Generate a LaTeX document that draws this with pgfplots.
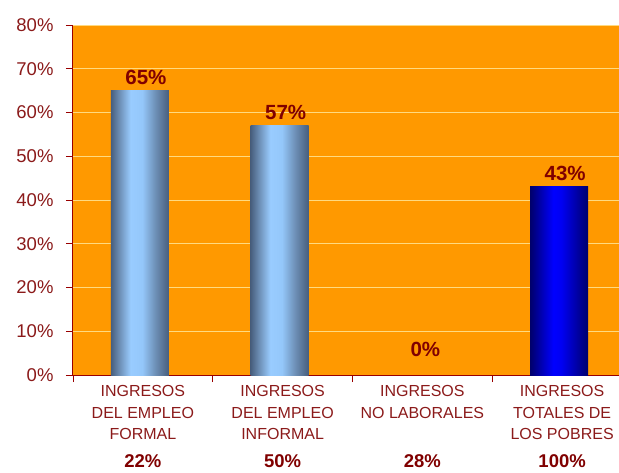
\documentclass[border=0pt]{standalone}
\usepackage{fontspec}
\setmainfont{Liberation Sans}
\usepackage{pgfplots}
\pgfplotsset{compat=1.18}
\definecolor{bg}{HTML}{FF9900}
\definecolor{gridc}{HTML}{FFDA80}
\definecolor{axc}{HTML}{990000}
\definecolor{txt}{HTML}{8B1A1A}
\definecolor{lab}{HTML}{800000}
\pgfdeclarehorizontalshading{steelbar}{100bp}{rgb(0bp)=(0.28,0.37,0.49); rgb(25bp)=(0.28,0.37,0.49); rgb(32bp)=(0.42,0.55,0.70); rgb(42bp)=(0.60,0.80,1.0); rgb(52bp)=(0.58,0.78,0.98); rgb(64bp)=(0.42,0.55,0.70); rgb(75bp)=(0.28,0.37,0.49); rgb(100bp)=(0.28,0.37,0.49)}
\pgfdeclarehorizontalshading{bluebar}{100bp}{rgb(0bp)=(0,0,0.42); rgb(25bp)=(0,0,0.42); rgb(45bp)=(0,0,1); rgb(52bp)=(0,0,0.95); rgb(75bp)=(0,0,0.42); rgb(100bp)=(0,0,0.42)}
\newcommand\pct{\fontsize{18.5}{21.5}\selectfont\bfseries\color{lab}}
\begin{document}
\begin{tikzpicture}
\useasboundingbox (0,0) rectangle (619pt,472pt);
\begin{axis}[
  at={(73pt,97pt)}, anchor=south west,
  scale only axis, width=546pt, height=350pt,
  xmin=-0.5, xmax=3.407, ymin=0, ymax=80,
  axis background/.style={fill=bg},
  axis x line*=bottom, axis y line*=left,
  axis line style={axc, line width=1pt, -},
  ytick={0,10,...,80},
  yticklabel={\pgfmathparse{int(\tick)}\pgfmathresult\%},
  yticklabel style={font=\fontsize{18.5}{18.5}\selectfont, text=txt, xshift=-9pt},
  ymajorgrids, y grid style={gridc, line width=0.9pt},
  xtick={-0.5,0.5,1.5,2.5}, xticklabels={},
  tick align=outside, major tick length=7pt,
  tick style={axc, line width=0.8pt},
  extra x ticks={0,1,2,3},
  extra x tick labels={
    {INGRESOS\\DEL EMPLEO\\FORMAL\\[6pt]{\pct 22\%}},
    {INGRESOS\\DEL EMPLEO\\INFORMAL\\[6pt]{\pct 50\%}},
    {INGRESOS\\NO LABORALES\\\mbox{}\\[6pt]{\pct 28\%}},
    {INGRESOS\\TOTALES DE\\LOS POBRES\\[6pt]{\pct 100\%}}},
  extra x tick style={major tick length=0pt, grid=none,
    xticklabel style={align=center, font=\fontsize{16}{21.5}\selectfont, text=txt, anchor=north, yshift=-7pt}},
  nodes near coords={\pgfmathprintnumber[assume math mode=true]{\pgfplotspointmeta}\%},
  every node near coord/.append style={font=\fontsize{20.5}{20.5}\selectfont\bfseries, text=lab, anchor=south, inner sep=0pt, yshift=6pt, xshift=3pt},
]
\addplot[ybar, bar width=58pt, bar shift=-3pt, draw=none, shading=steelbar, shading angle=0] coordinates {(0,65)};
\addplot[ybar, bar width=58pt, bar shift=-3pt, draw=none, shading=steelbar, shading angle=0] coordinates {(1,57)};
\addplot[ybar, bar width=58pt, bar shift=-3pt, draw=none, fill=none, every node near coord/.append style={yshift=12pt}] coordinates {(2,0)};
\addplot[ybar, bar width=58pt, bar shift=-3pt, draw=none, shading=bluebar, shading angle=0] coordinates {(3,43)};
\end{axis}
\end{tikzpicture}
\end{document}
